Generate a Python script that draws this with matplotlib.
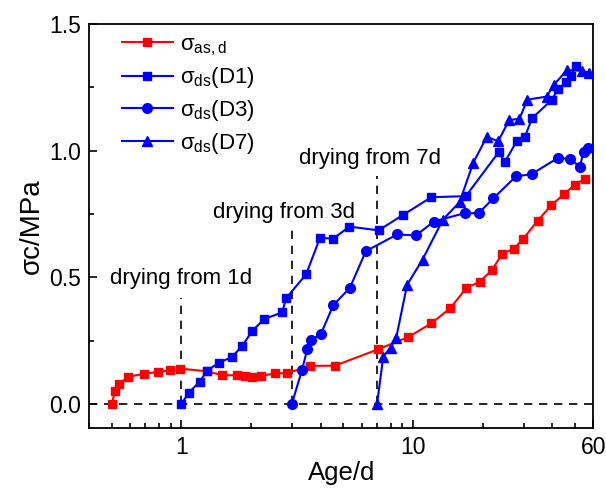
import matplotlib.pyplot as plt
from matplotlib.ticker import FixedLocator, MultipleLocator, NullFormatter

plt.rcParams['font.family'] = ['Liberation Sans', 'DejaVu Sans']
plt.rcParams['mathtext.fontset'] = 'custom'
plt.rcParams['mathtext.rm'] = 'Liberation Sans'
plt.rcParams['mathtext.it'] = 'Liberation Sans:italic'

# sigma_as,d
age_as = [0.5, 0.52, 0.54, 0.59, 0.69, 0.79, 0.89, 0.99, 1.29, 1.5, 1.74, 1.89,
          2.02, 2.21, 2.54, 2.85, 3.6, 4.61, 7.05, 9.55, 12.0, 14.5, 17.0, 19.4,
          21.9, 24.3, 27.2, 29.8, 34.5, 39.6, 44.9, 50.0, 55.0]
sig_as = [0.0, 0.052, 0.078, 0.107, 0.119, 0.126, 0.133, 0.139, 0.129, 0.113,
          0.113, 0.110, 0.106, 0.110, 0.121, 0.121, 0.150, 0.151, 0.215, 0.264,
          0.318, 0.378, 0.458, 0.482, 0.528, 0.593, 0.612, 0.650, 0.723, 0.785,
          0.828, 0.866, 0.888]

# sigma_ds, drying from 1d
age_d1 = [1.0, 1.08, 1.2, 1.29, 1.45, 1.65, 1.83, 2.02, 2.28, 2.72, 2.84, 3.46,
          3.97, 4.53, 5.31, 7.1, 9.1, 12.0, 16.9, 23.4, 24.9, 28.0, 30.4, 32.6,
          39.7, 42.3, 45.9, 48.2, 50.3]
sig_d1 = [0.0, 0.045, 0.088, 0.130, 0.163, 0.184, 0.228, 0.287, 0.335, 0.361,
          0.418, 0.512, 0.656, 0.652, 0.700, 0.685, 0.747, 0.816, 0.820, 0.993,
          0.955, 1.036, 1.053, 1.127, 1.200, 1.242, 1.269, 1.295, 1.335]

# sigma_ds, drying from 3d
age_d3 = [3.0, 3.32, 3.5, 3.62, 4.0, 4.53, 5.34, 6.26, 8.55, 10.3, 12.3, 16.7,
          19.2, 22.2, 27.8, 32.5, 42.4, 47.8, 52.5, 54.5, 57.2]
sig_d3 = [0.0, 0.134, 0.217, 0.252, 0.275, 0.390, 0.458, 0.603, 0.669, 0.665,
          0.720, 0.753, 0.753, 0.811, 0.898, 0.907, 0.972, 0.966, 0.936, 0.995,
          1.012]

# sigma_ds, drying from 7d
age_d7 = [7.0, 7.44, 8.0, 8.47, 9.43, 11.0, 13.45, 15.9, 18.2, 20.85, 23.3, 26.0,
          28.8, 31.2, 37.7, 40.6, 46.2, 53.5, 57.3]
sig_d7 = [0.0, 0.187, 0.222, 0.262, 0.470, 0.570, 0.727, 0.797, 0.952, 1.055,
          1.036, 1.120, 1.126, 1.201, 1.213, 1.260, 1.318, 1.315, 1.308]

# drying start annotations
start_days = [1, 3, 7]
note_texts = ['drying from 1d', 'drying from 3d', 'drying from 7d']
note_x = [1.0, 2.78, 6.5]
note_y = [0.496, 0.757, 0.969]
line_tops = [0.417, 0.693, 0.90]

red = '#ff0000'
blue = '#0000ff'

fig = plt.figure(figsize=(6.06, 4.88), dpi=100)
ax = fig.add_axes([0.147, 0.123, 0.832, 0.828])

ax.axhline(0, color='black', lw=1.2, ls=(0, (5, 4)), zorder=1)
for d, top in zip(start_days, line_tops):
    ax.plot([d, d], [0, top], color='black', lw=1.2, ls=(0, (5, 4)), zorder=1)
for t, x, y in zip(note_texts, note_x, note_y):
    ax.text(x, y, t, ha='center', va='center', fontsize=16)

ax.plot(age_as, sig_as, color=red, marker='s', ms=5.5, lw=1.5,
        label='σ$_{\\mathrm{as,d}}$', zorder=3)
ax.plot(age_d1, sig_d1, color=blue, marker='s', ms=5.5, lw=1.5,
        label='σ$_{\\mathrm{ds}}$(D1)', zorder=3)
ax.plot(age_d3, sig_d3, color=blue, marker='o', ms=7, lw=1.5,
        label='σ$_{\\mathrm{ds}}$(D3)', zorder=3)
ax.plot(age_d7, sig_d7, color=blue, marker='^', ms=7, lw=1.5,
        label='σ$_{\\mathrm{ds}}$(D7)', zorder=3)

ax.set_xscale('log')
ax.set_xlim(0.4, 60)
ax.set_ylim(-0.095, 1.5)

ax.xaxis.set_major_locator(FixedLocator([1, 10, 60]))
ax.xaxis.set_minor_locator(FixedLocator([0.4, 0.5, 0.6, 0.7, 0.8, 0.9,
                                         2, 3, 4, 5, 6, 7, 8, 9,
                                         20, 30, 40, 50]))
ax.xaxis.set_minor_formatter(NullFormatter())
ax.set_xticklabels(['1', '10', '60'])
ax.yaxis.set_major_locator(MultipleLocator(0.5))
ax.yaxis.set_minor_locator(MultipleLocator(0.25))
ax.yaxis.set_major_formatter(plt.FormatStrFormatter('%.1f'))

ax.tick_params(which='both', direction='in', labelsize=16.5, width=1.2, pad=6)
ax.tick_params(which='major', length=6)
ax.tick_params(which='minor', length=3.5)
for s in ax.spines.values():
    s.set_linewidth(1.3)

ax.set_xlabel('Age/d', fontsize=18.5, labelpad=1)
ax.set_ylabel('σc/MPa', fontsize=20, labelpad=3)

ax.legend(loc='upper left', frameon=False, fontsize=16, handlelength=2.3,
          handletextpad=0.3, labelspacing=0.35, borderaxespad=0, borderpad=0,
          bbox_to_anchor=(0.065, 0.975))

fig.savefig('out.png', dpi=100)
